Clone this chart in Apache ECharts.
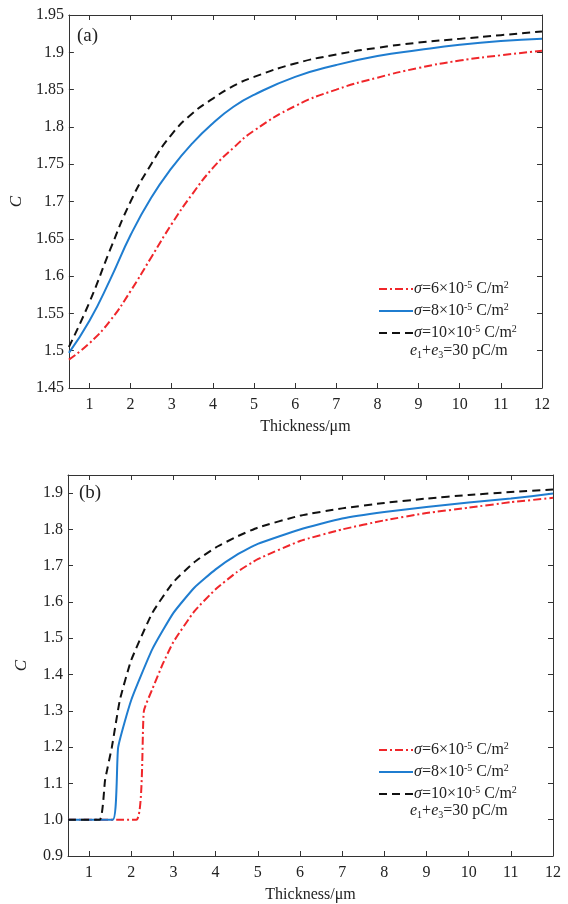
<!DOCTYPE html>
<html>
<head>
<meta charset="utf-8">
<script src="https://cdn.jsdelivr.net/npm/echarts@6/dist/echarts.min.js"></script>
<style>
  html, body { margin: 0; padding: 0; background: #fff; }
  #chart { width: 568px; height: 904px; }
</style>
</head>
<body>
<div id="chart"></div>
<script>
// panel (a)
var thicknessA = [0.5, 1, 1.5, 2, 2.5, 3, 3.5, 4, 4.5, 5, 6, 7, 8, 9, 10, 11, 12];
var redA   = [1.488, 1.51, 1.54, 1.58, 1.625, 1.67, 1.71, 1.745, 1.772, 1.795, 1.828, 1.85, 1.866, 1.879, 1.889, 1.896, 1.902];
var blueA  = [1.497, 1.54, 1.595, 1.655, 1.705, 1.745, 1.778, 1.805, 1.827, 1.843, 1.867, 1.883, 1.895, 1.903, 1.91, 1.915, 1.918];
var blackA = [1.505, 1.565, 1.635, 1.70, 1.75, 1.79, 1.818, 1.838, 1.855, 1.867, 1.885, 1.897, 1.906, 1.913, 1.918, 1.923, 1.928];

// panel (b)
var redBx   = [0.5, 2.12, 2.3, 2.5, 2.75, 3, 3.5, 4, 4.5, 5, 6, 7, 8, 9, 10, 11, 12];
var redBy   = [1.0, 1.0, 1.3, 1.36, 1.43, 1.49, 1.575, 1.635, 1.682, 1.718, 1.768, 1.80, 1.825, 1.845, 1.86, 1.875, 1.887];
var blueBx  = [0.5, 1.56, 1.69, 2, 2.5, 3, 3.5, 4, 4.5, 5, 6, 7, 8, 9, 10, 11, 12];
var blueBy  = [1.0, 1.0, 1.2, 1.33, 1.47, 1.57, 1.64, 1.69, 1.73, 1.76, 1.80, 1.83, 1.848, 1.862, 1.874, 1.885, 1.899];
var blackBx = [0.5, 1.25, 1.38, 1.54, 1.73, 2, 2.5, 3, 3.5, 4, 4.5, 5, 6, 7, 8, 9, 10, 11, 12];
var blackBy = [1.0, 1.0, 1.11, 1.20, 1.33, 1.44, 1.57, 1.655, 1.71, 1.75, 1.78, 1.805, 1.838, 1.858, 1.873, 1.885, 1.895, 1.903, 1.91];

var xTicks  = [1, 2, 3, 4, 5, 6, 7, 8, 9, 10, 11, 12];
var yTicksA = [1.45, 1.5, 1.55, 1.6, 1.65, 1.7, 1.75, 1.8, 1.85, 1.9, 1.95];
var yTicksB = [0.9, 1.0, 1.1, 1.2, 1.3, 1.4, 1.5, 1.6, 1.7, 1.8, 1.9];

var names = ['s6', 's8', 's10'];
var legendText = {
  s6:  '{i|σ}=6×10{sup|-5} C/m{sup|2}',
  s8:  '{i|σ}=8×10{sup|-5} C/m{sup|2}',
  s10: '{i|σ}=10×10{sup|-5} C/m{sup|2}'
};

var FONT = "'Liberation Serif', 'Times New Roman', serif";
var INK = '#222';

function pairs(xs, ys) {
  return xs.map(function (x, i) { return [x, ys[i]]; });
}

var richText = {
  i:   { fontFamily: FONT, fontSize: 16, fontStyle: 'italic', color: INK, lineHeight: 18 },
  sup: { fontFamily: FONT, fontSize: 10, color: INK, verticalAlign: 'top', lineHeight: 18, padding: [0, 0, 6, 0] },
  sub: { fontFamily: FONT, fontSize: 10, color: INK, verticalAlign: 'bottom', lineHeight: 18, padding: [6, 0, 0, 0] }
};

function xAxisMain(gi) {
  return {
    type: 'value', gridIndex: gi, min: 0.5, max: 12,
    name: 'Thickness/μm', nameLocation: 'middle', nameGap: 31,
    nameTextStyle: { fontFamily: FONT, fontSize: 16, color: INK },
    axisLine: { onZero: false, lineStyle: { color: '#333', width: 1 } },
    axisTick: { inside: true, length: 5, customValues: xTicks, lineStyle: { color: '#333' } },
    axisLabel: { customValues: xTicks, margin: 9, fontFamily: FONT, fontSize: 16, color: INK },
    splitLine: { show: false }
  };
}
function xAxisTop(gi) {
  return {
    type: 'value', gridIndex: gi, min: 0.5, max: 12, position: 'top',
    axisLine: { onZero: false, lineStyle: { color: '#333', width: 1 } },
    axisTick: { inside: true, length: 5, customValues: xTicks, lineStyle: { color: '#333' } },
    axisLabel: { show: false }, splitLine: { show: false }
  };
}
function yAxisMain(gi, lo, hi, ticks, fmt) {
  return {
    type: 'value', gridIndex: gi, min: lo, max: hi,
    name: 'C', nameLocation: 'middle', nameGap: 38, nameRotate: 90,
    nameTextStyle: { fontFamily: FONT, fontSize: 17, fontStyle: 'italic', color: INK },
    axisLine: { show: true, onZero: false, lineStyle: { color: '#333', width: 1 } },
    axisTick: { show: true, inside: true, length: 5, customValues: ticks, lineStyle: { color: '#333' } },
    axisLabel: { customValues: ticks, margin: 5, fontFamily: FONT, fontSize: 16, color: INK, formatter: fmt },
    splitLine: { show: false }
  };
}
function yAxisRight(gi, lo, hi, ticks) {
  return {
    type: 'value', gridIndex: gi, min: lo, max: hi, position: 'right',
    axisLine: { show: true, onZero: false, lineStyle: { color: '#333', width: 1 } },
    axisTick: { show: true, inside: true, length: 5, customValues: ticks, lineStyle: { color: '#333' } },
    axisLabel: { show: false }, splitLine: { show: false }
  };
}

function lineSeries(name, xi, yi, data, color, dash, smooth) {
  return {
    name: name, type: 'line', xAxisIndex: xi, yAxisIndex: yi, data: data,
    showSymbol: false, symbol: 'none', smooth: smooth,
    lineStyle: { color: color, width: 2, type: dash },
    itemStyle: { color: color },
    silent: true, animation: false
  };
}

var RED = '#f0262a', BLUE = '#1f7dd0', BLACK = '#111';
var DASHDOT = [8, 3, 2, 3], DASHED = [8, 5];

function legendBox(top) {
  return {
    orient: 'vertical', left: 373, top: top, itemWidth: 34, itemHeight: 12, itemGap: 4,
    data: names, selectedMode: false,
    itemStyle: { opacity: 0, borderWidth: 0 },
    formatter: function (n) { return legendText[n]; },
    textStyle: { fontFamily: FONT, fontSize: 16, color: INK, lineHeight: 18, padding: [0, 0, 0, -4], rich: richText }
  };
}

function eText(top) {
  return {
    type: 'text', left: 410, top: top,
    style: {
      text: '{i|e}{sub|1}+{i|e}{sub|3}=30 pC/m',
      rich: richText, fontFamily: FONT, fontSize: 16, fill: INK, lineHeight: 18
    }
  };
}

var chart = echarts.init(document.getElementById('chart'), null, { renderer: 'canvas' });
chart.setOption({
  backgroundColor: '#fff',
  animation: false,
  grid: [
    { left: 66, top: 15, width: 476, height: 373, show: false },
    { left: 68, top: 475, width: 485, height: 381, show: false }
  ],
  xAxis: [xAxisMain(0), xAxisTop(0), xAxisMain(1), xAxisTop(1)],
  yAxis: [
    yAxisMain(0, 1.45, 1.95, yTicksA, function (v) { return String(+v.toFixed(2)); }),
    yAxisRight(0, 1.45, 1.95, yTicksA),
    yAxisMain(1, 0.9, 1.95, yTicksB, function (v) { return v.toFixed(1); }),
    yAxisRight(1, 0.9, 1.95, yTicksB)
  ],
  legend: [legendBox(275), legendBox(736)],
  graphic: [
    { type: 'text', left: 77, top: 27, style: { text: '(a)', fontFamily: FONT, fontSize: 19, fill: INK } },
    { type: 'text', left: 79, top: 484, style: { text: '(b)', fontFamily: FONT, fontSize: 19, fill: INK } },
    eText(342),
    eText(802)
  ],
  series: [
    lineSeries('s6', 0, 0, pairs(thicknessA, redA), RED, DASHDOT, 0.5),
    lineSeries('s8', 0, 0, pairs(thicknessA, blueA), BLUE, 'solid', 0.5),
    lineSeries('s10', 0, 0, pairs(thicknessA, blackA), BLACK, DASHED, 0.5),
    lineSeries('s6', 2, 2, pairs(redBx, redBy), RED, DASHDOT, 0.15),
    lineSeries('s8', 2, 2, pairs(blueBx, blueBy), BLUE, 'solid', 0.15),
    lineSeries('s10', 2, 2, pairs(blackBx, blackBy), BLACK, DASHED, 0.15)
  ]
});
</script>
</body>
</html>
